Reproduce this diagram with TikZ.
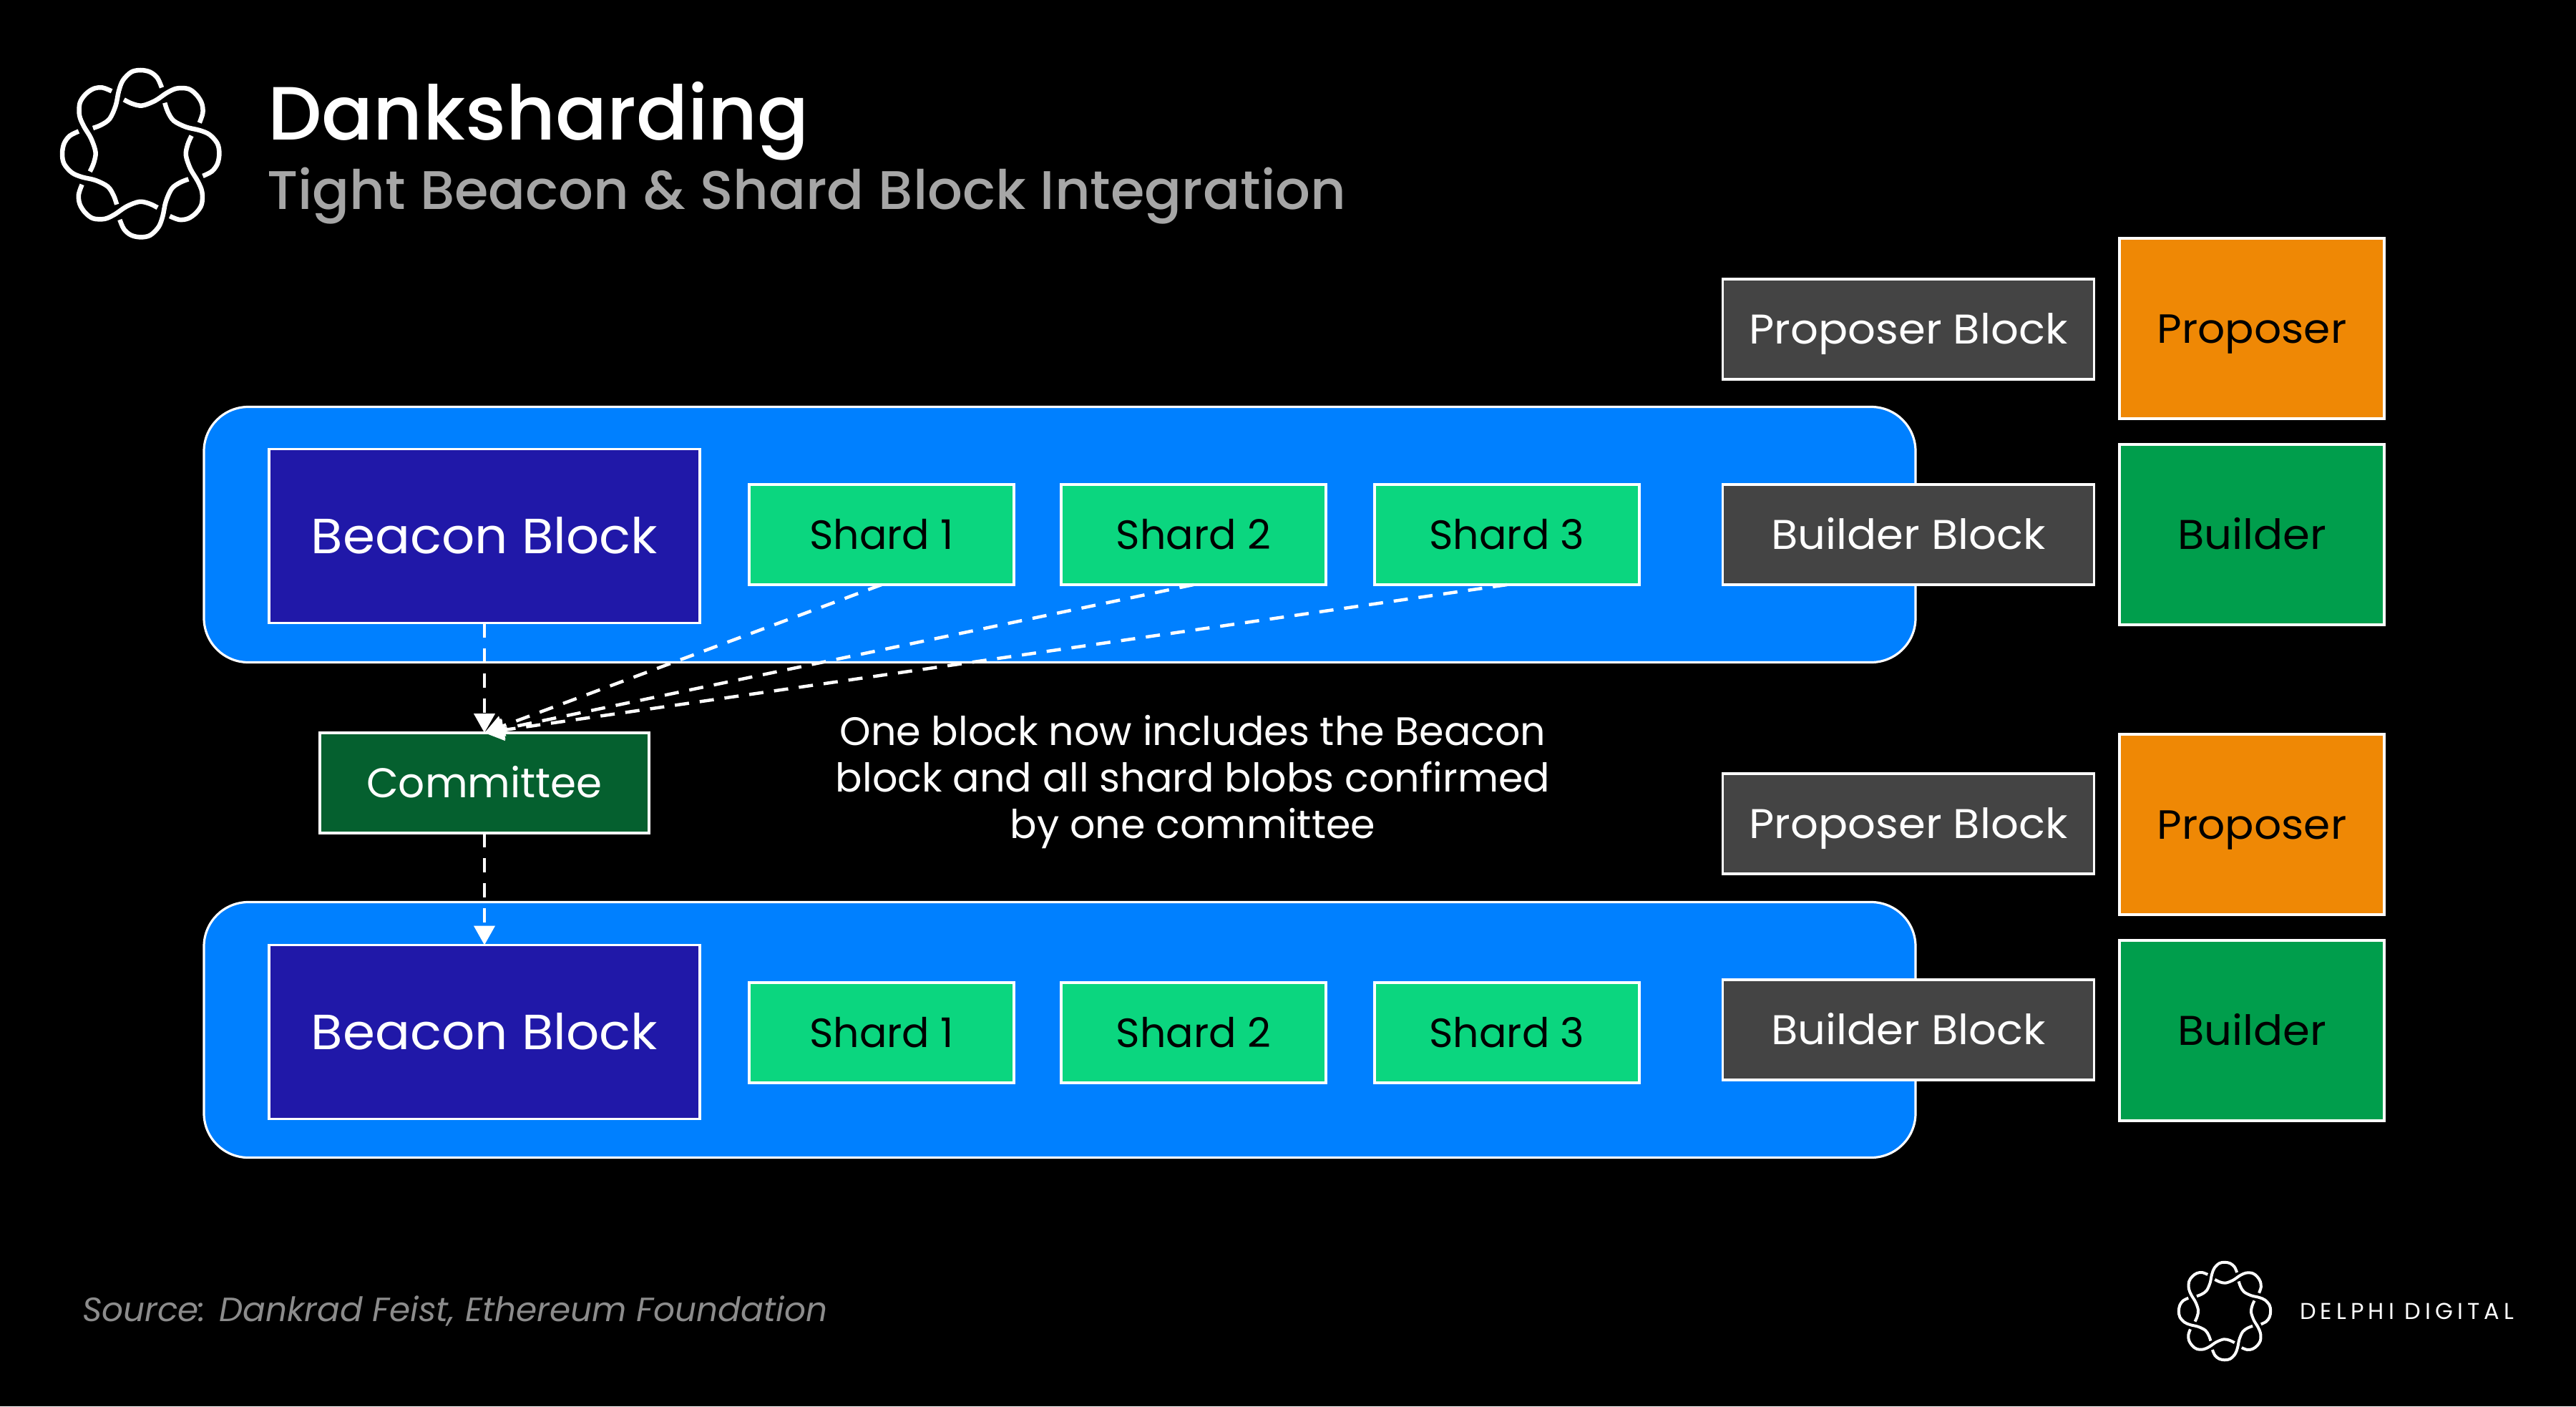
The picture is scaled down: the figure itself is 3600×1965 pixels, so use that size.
\documentclass[tikz,border=0pt]{standalone}
\usepackage{fontspec}
\setmainfont{Poppins}
\newfontfamily\widef[FakeStretch=1.05]{Poppins}
\newfontfamily\titlef[FakeStretch=1.01]{Poppins Medium}
\usetikzlibrary{arrows.meta}
\definecolor{panelblue}{HTML}{0080FF}
\definecolor{beaconblue}{HTML}{2018A8}
\definecolor{shardgreen}{HTML}{0BD67F}
\definecolor{blockgrey}{HTML}{444444}
\definecolor{proposerorange}{HTML}{EF8805}
\definecolor{buildergreen}{HTML}{009E4C}
\definecolor{committeegreen}{HTML}{05602F}
\definecolor{subtitlegrey}{HTML}{A6A6A6}
\definecolor{sourcegrey}{HTML}{8C8C8C}
\newcommand{\fsz}[1]{\fontsize{#1}{#1}\selectfont}
\newcommand{\logomark}[4]{%
  \begin{scope}[shift={(#1,#2)},xscale=0.94]
  \foreach \ang in {0,45,...,315}{%
    \draw[white,line width=#4,line cap=butt,rotate=\ang,scale=#3]
      plot[smooth,tension=0.55] coordinates {(31.2,-92.3)(24.8,-105.7)(14.1,-114)(0,-116.7)(-14.1,-114)(-26.6,-102.3)(-32.7,-87.3)(-37.2,-67.3)(-46,-49)(-58.5,-40.3)(-71,-35.7)};
  }%
  \end{scope}%
}
\tikzset{
  x=1pt,y=-1pt,
  box/.style={draw=white,line width=3.2pt,inner sep=0pt,outer sep=0pt,align=center},
  panel/.style={box,fill=panelblue,rounded corners=62pt,minimum width=2392pt,minimum height=357pt},
  beacon/.style={box,fill=beaconblue,text=white,minimum width=602pt,minimum height=243pt,font=\widef\fsz{69},text height=48pt,text depth=0pt},
  shard/.style={box,fill=shardgreen,text=black,minimum width=370pt,minimum height=140pt,font=\fsz{57},text height=40pt,text depth=0pt},
  greyblock/.style={box,fill=blockgrey,text=white,minimum width=519pt,minimum height=140pt,font=\widef\fsz{58},text height=41pt,text depth=0pt},
  proposer/.style={box,fill=proposerorange,text=black,minimum width=370pt,minimum height=252pt,font=\widef\fsz{57},text height=40pt,text depth=0pt},
  builder/.style={box,fill=buildergreen,text=black,minimum width=370pt,minimum height=252pt,font=\widef\fsz{58},text height=41pt,text depth=0pt},
  committee/.style={box,fill=committeegreen,text=white,minimum width=460pt,minimum height=140pt,font=\fsz{58},text height=41pt,text depth=0pt},
  link/.style={draw=white,line width=4.5pt,dash pattern=on 20pt off 15pt,
    -{Triangle[length=27pt,width=29pt,fill=white]}},
}
\begin{document}
\begin{tikzpicture}
\path[use as bounding box,fill=black] (0,0) rectangle (3600,1965);
% top row
\node[panel] (panelA) at (1481,747) {};
\node[beacon] (beaconA) at (677,749) {Beacon Block};
\node[shard] (shardA1) at (1232,747) {Shard 1};
\node[shard] (shardA2) at (1668,747) {Shard 2};
\node[shard] (shardA3) at (2106,747) {Shard 3};
\node[greyblock] (propblockA) at (2667,460) {Proposer Block};
\node[proposer] (proposerA) at (3147,459) {Proposer};
\node[greyblock] (buildblockA) at (2667,747) {Builder Block};
\node[builder] (builderA) at (3147,747) {Builder};
% committee
\node[committee] (comm) at (677,1094) {Committee};
% bottom row
\node[panel] (panelB) at (1481,1439) {};
\node[beacon] (beaconB) at (677,1442) {Beacon Block};
\node[shard] (shardB1) at (1232,1443) {Shard 1};
\node[shard] (shardB2) at (1668,1443) {Shard 2};
\node[shard] (shardB3) at (2106,1443) {Shard 3};
\node[greyblock] (propblockB) at (2667,1151) {Proposer Block};
\node[proposer] (proposerB) at (3147,1152) {Proposer};
\node[greyblock] (buildblockB) at (2667,1439) {Builder Block};
\node[builder] (builderB) at (3147,1440) {Builder};
% links
\draw[link] (beaconA.south) -- (comm.north);
\draw[link] (shardA1.south) -- (comm.north);
\draw[link] (shardA2.south) -- (comm.north);
\draw[link] (shardA3.south) -- (comm.north);
\draw[link] (comm.south) -- (beaconB.north);
% texts
\node[anchor=base west,text=white,inner sep=0pt,font=\titlef\fsz{105.5}] (title) at (374,195) {Danksharding};
\node[anchor=base west,text=subtitlegrey,inner sep=0pt,font=\titlef\fsz{76}] (subtitle) at (373,292) {Tight Beacon \& Shard Block Integration};
\node[text=white,align=center,inner sep=0pt,font=\fontsize{55.5}{65}\selectfont] (note) at (1667,1093)
  {One block now includes the Beacon\\block and all shard blobs confirmed\\by one committee};
\node[anchor=base west,text=sourcegrey,inner sep=0pt,font=\fsz{47}\itshape] (source) at (115,1846) {Source: Dankrad Feist, Ethereum Foundation};
\node[anchor=base west,text=white,inner sep=0pt,font=\fsz{32}\addfontfeature{LetterSpace=19}] (brand) at (3214,1843) {DELPHI DIGITAL};
% logos
\logomark{196.7}{214.7}{1}{6.5pt}
\logomark{3109}{1832}{0.585}{4pt}
\end{tikzpicture}
\end{document}
